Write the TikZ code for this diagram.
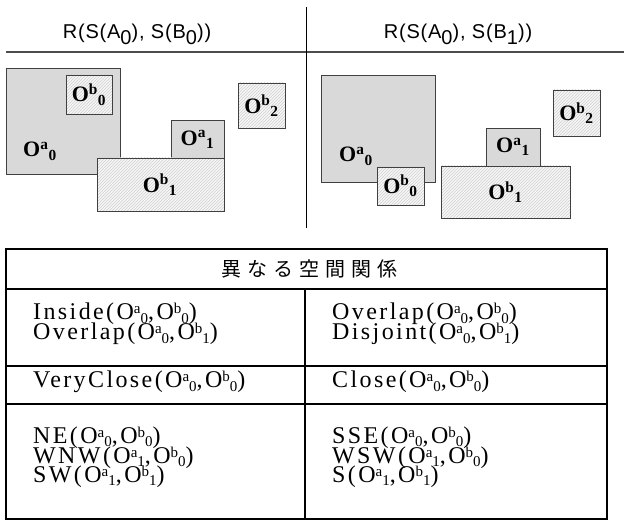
\documentclass[tikz,border=0pt]{standalone}
\usepackage{fontspec}
\setmainfont{Liberation Serif}
\setsansfont{Liberation Sans}
\newfontfamily\tblfont{Liberation Serif}[LetterSpace=10]
\newfontfamily\ttlfont{Liberation Sans}[LetterSpace=4]
\newfontfamily\cjk{Noto Sans CJK JP}[LetterSpace=30]
\usetikzlibrary{patterns}
\newcommand{\obj}[2]{O\textsuperscript{#1}\textsubscript{#2}}
\newcommand{\tobj}[2]{O\raisebox{6pt}{\fontsize{15}{15}\selectfont #1}%
  \raisebox{-3.5pt}{\fontsize{15}{15}\selectfont #2}}
\newcommand{\lowsub}[1]{\raisebox{-0.3em}{#1}}
\begin{document}
\begin{tikzpicture}[x=1pt,y=-1pt,
    objA/.style={draw=black!75, line width=0.9pt, fill=gray!30},
    objB/.style={draw=black!75, line width=0.9pt, preaction={fill=gray!6},
      pattern=north east lines, pattern color=gray!38},
    lbl/.style={font=\fontsize{22}{22}\selectfont\bfseries, inner sep=0pt},
    ttl/.style={font=\ttlfont\fontsize{20}{22}\selectfont, anchor=base},
    cell/.style={font=\tblfont\fontsize{24}{24}\selectfont,
      anchor=base west, inner sep=0pt},
    grid/.style={line width=1.8pt}]
  \useasboundingbox (0,0) rectangle (624,521);
  % titles and separators
  \node[ttl] (ttlL) at (137,39) {R(S(A\lowsub{0}), S(B\lowsub{0}))};
  \node[ttl] (ttlR) at (458,39) {R(S(A\lowsub{0}), S(B\lowsub{1}))};
  \draw[black!70, line width=1.2pt] (6,52) -- (624,52);
  \draw[line width=0.9pt] (306.5,7) -- (306.5,228);
  % left scene
  \draw[objA] (6,68) rectangle (120,174);
  \draw[objB] (66,75) rectangle (112,114);
  \draw[objA] (171,120) rectangle (224,159);
  \draw[objB] (97,158) rectangle (224,211);
  \draw[objB] (238,83) rectangle (285,128);
  \node[lbl, anchor=base west] (la0) at (23,157) {\obj{a}{0}};
  \node[lbl] (lb0) at (89,94.5) {\obj{b}{0}};
  \node[lbl] (la1) at (197.5,139.5) {\obj{a}{1}};
  \node[lbl] (lb1) at (160,184.5) {\obj{b}{1}};
  \node[lbl] (lb2) at (261.5,105.5) {\obj{b}{2}};
  % right scene
  \draw[objA] (321,75) rectangle (435,182);
  \draw[objB] (377,167) rectangle (424,205);
  \draw[objB] (441,166) rectangle (570,218);
  \draw[objA] (486,128) rectangle (540,166);
  \draw[objB] (553,90) rectangle (600,136);
  \node[lbl, anchor=base west] (ra0) at (339,162) {\obj{a}{0}};
  \node[lbl] (rb0) at (400.5,186) {\obj{b}{0}};
  \node[lbl] (ra1) at (513,147) {\obj{a}{1}};
  \node[lbl] (rb1) at (505.5,192) {\obj{b}{1}};
  \node[lbl] (rb2) at (576.5,113) {\obj{b}{2}};
  % table
  \draw[grid] (6,249) rectangle (607,519);
  \draw[grid] (6,289) -- (607,289);
  \draw[grid] (6,366) -- (607,366);
  \draw[grid] (6,404) -- (607,404);
  \draw[grid] (305,289) -- (305,519);
  \node[font=\cjk\fontsize{20}{20}\selectfont] (head) at (309,269) {異なる空間関係};
  \node[cell] (inside)   at (33,320)  {Inside(\tobj{a}{0},\tobj{b}{0})};
  \node[cell] (overlapL) at (33,340)  {Overlap(\tobj{a}{0},\tobj{b}{1})};
  \node[cell] (overlapR) at (332,320) {Overlap(\tobj{a}{0},\tobj{b}{0})};
  \node[cell] (disjoint) at (332,340) {Disjoint(\tobj{a}{0},\tobj{b}{1})};
  \node[cell] (veryclose) at (33,388) {VeryClose(\tobj{a}{0},\tobj{b}{0})};
  \node[cell] (close)    at (332,388) {Close(\tobj{a}{0},\tobj{b}{0})};
  \node[cell] (ne)  at (33,443)  {NE(\tobj{a}{0},\tobj{b}{0})};
  \node[cell] (wnw) at (33,463)  {WNW(\tobj{a}{1},\tobj{b}{0})};
  \node[cell] (sw)  at (33,482)  {SW(\tobj{a}{1},\tobj{b}{1})};
  \node[cell] (sse) at (332,443) {SSE(\tobj{a}{0},\tobj{b}{0})};
  \node[cell] (wsw) at (332,463) {WSW(\tobj{a}{1},\tobj{b}{0})};
  \node[cell] (s)   at (332,482) {S(\tobj{a}{1},\tobj{b}{1})};
\end{tikzpicture}
\end{document}
